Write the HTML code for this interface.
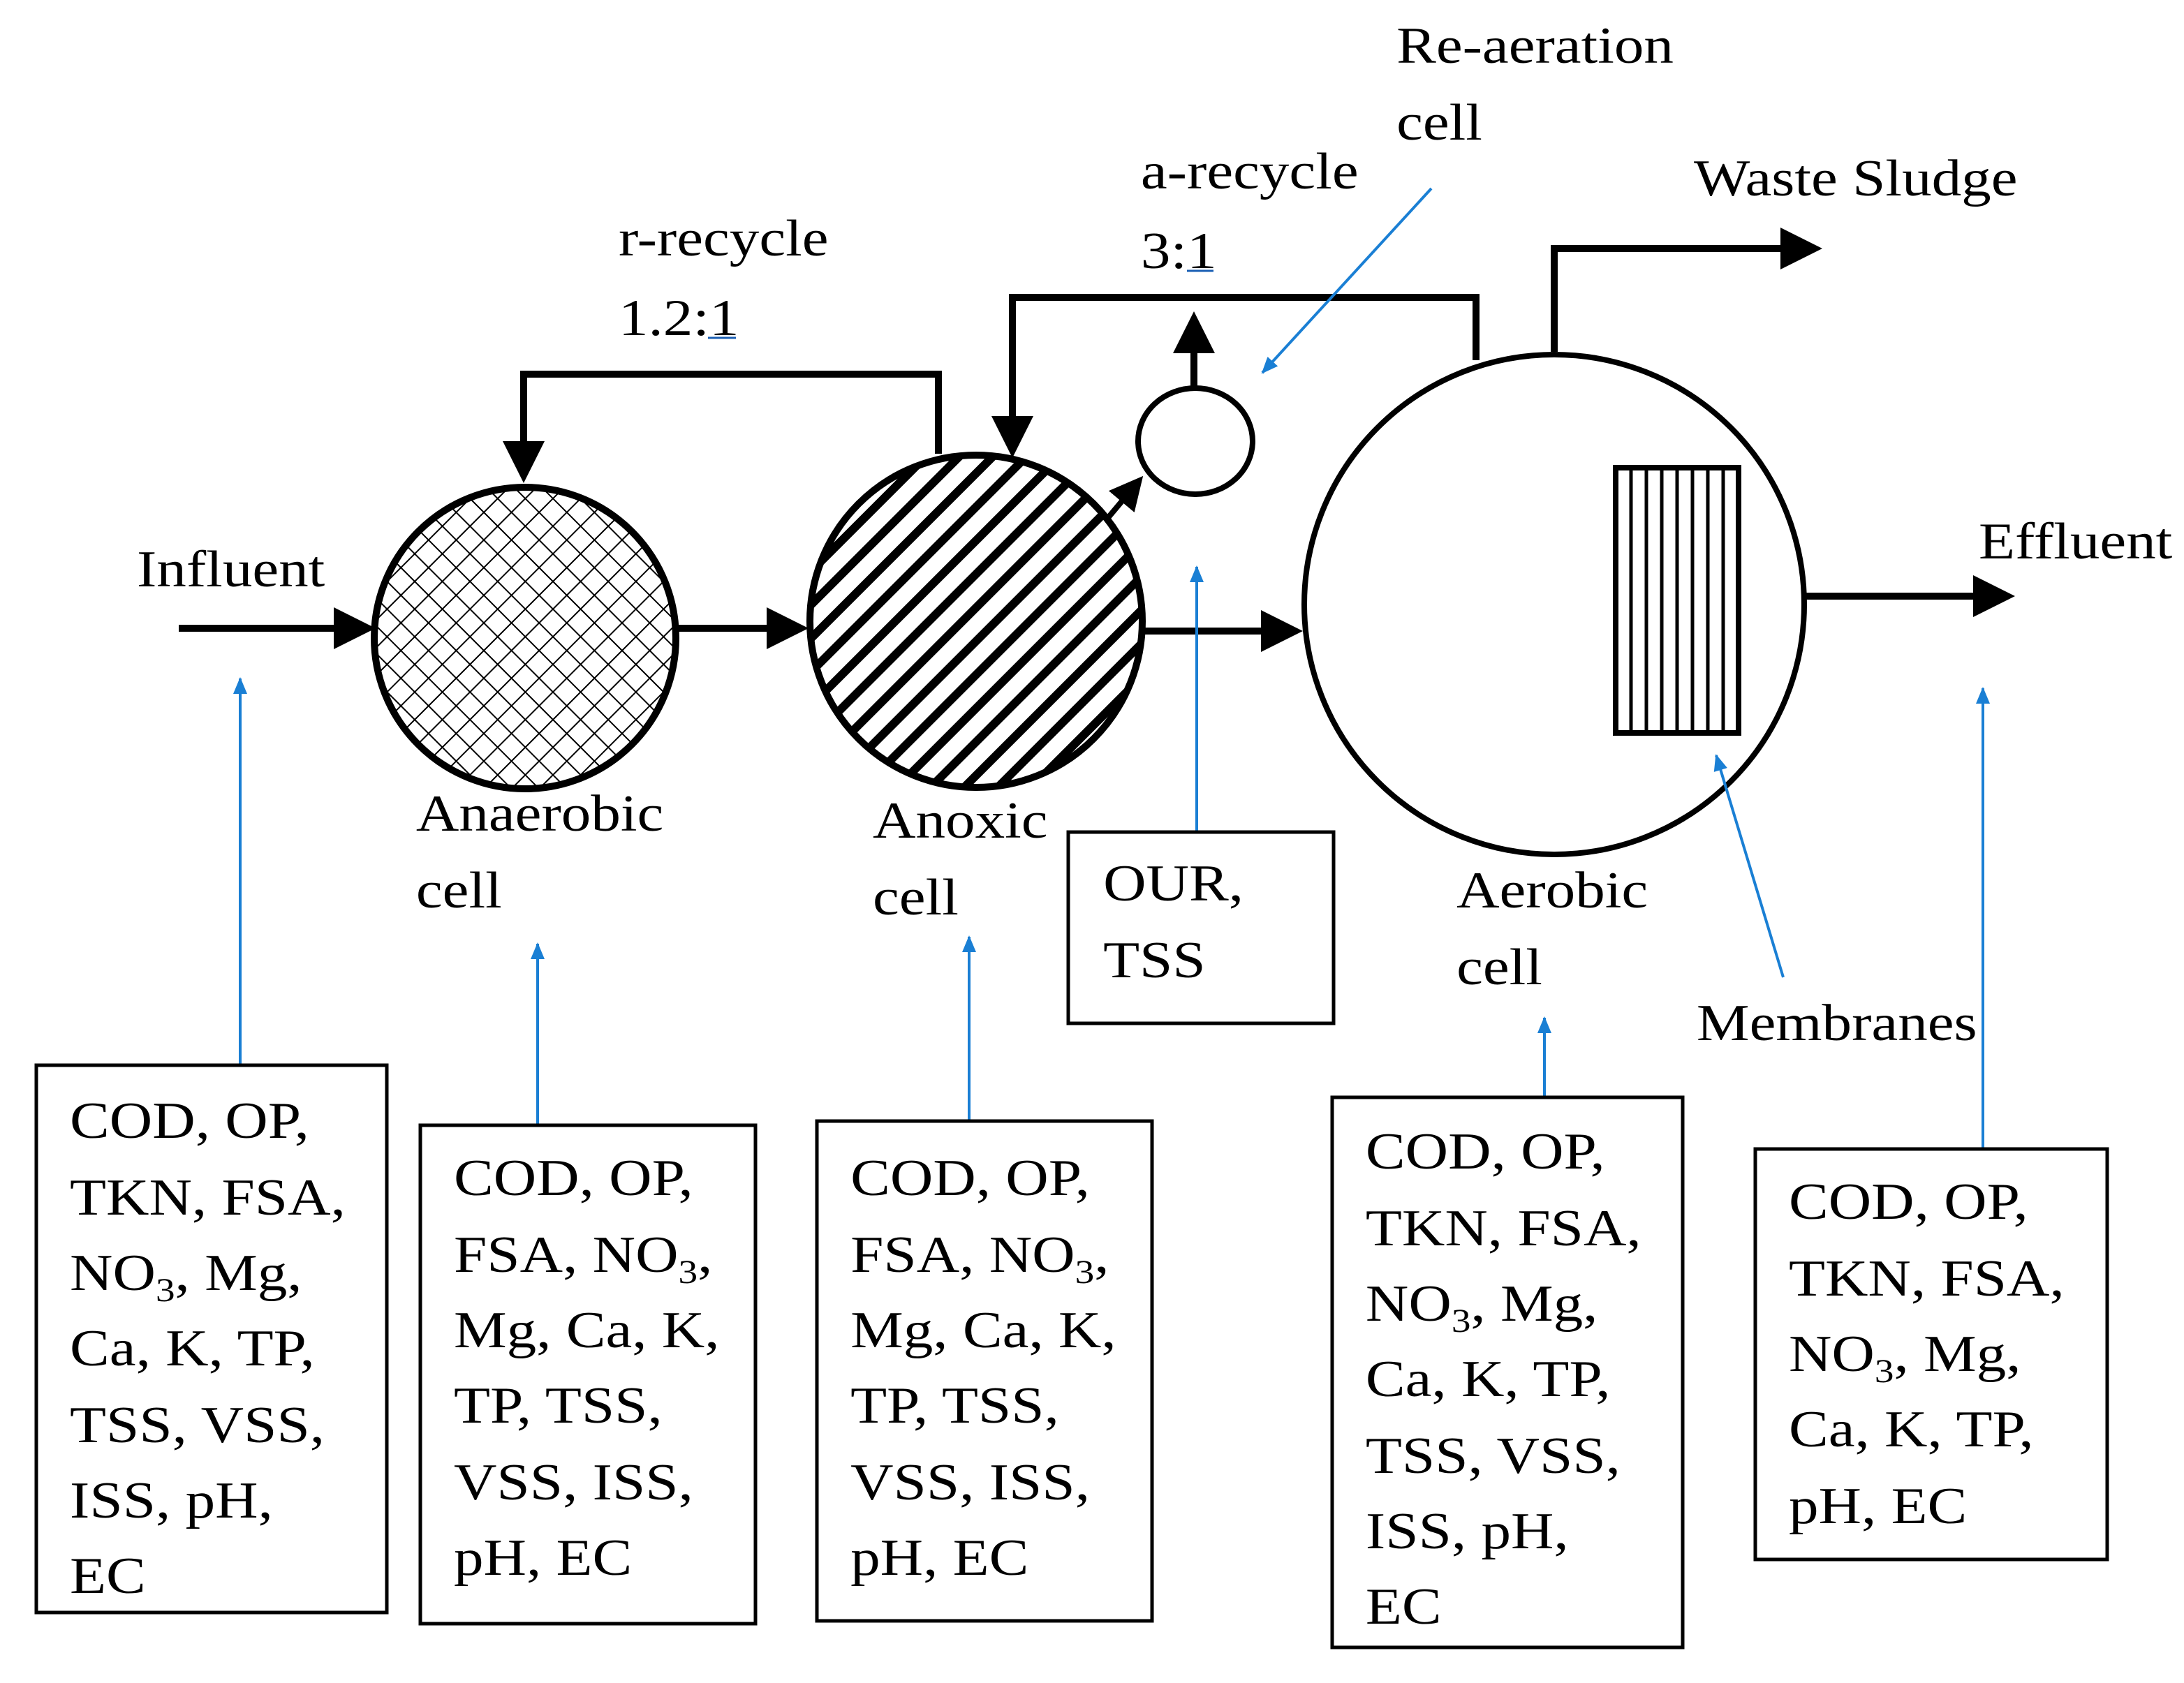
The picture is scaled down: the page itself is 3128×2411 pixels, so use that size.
<!DOCTYPE html>
<html><head><meta charset="utf-8"><style>
html,body{margin:0;padding:0;background:#fff;}
svg{display:block;}
text{font-family:"Liberation Serif",serif;font-size:37px;fill:#000;}
</style></head><body>
<svg width="3128" height="2411" viewBox="0 0 1564 1205.5" xmlns="http://www.w3.org/2000/svg">
<defs>
<pattern id="cross" width="14" height="14" patternUnits="userSpaceOnUse" patternTransform="rotate(45)">
<rect width="14" height="14" fill="#fff"/>
<line x1="0" y1="0" x2="0" y2="14" stroke="#000" stroke-width="2"/>
<line x1="0" y1="0" x2="14" y2="0" stroke="#000" stroke-width="2"/>
</pattern>
<pattern id="diag" width="17" height="17" patternUnits="userSpaceOnUse" patternTransform="rotate(-45)">
<rect width="17" height="17" fill="#fff"/>
<rect x="0" y="0" width="17" height="6" fill="#000"/>
</pattern>
<marker id="ak" markerWidth="6" markerHeight="6" refX="5" refY="3" orient="auto" markerUnits="strokeWidth">
<path d="M0,0 L6,3 L0,6 z" fill="#000"/>
</marker>
<marker id="ab" markerWidth="12" markerHeight="10" refX="11" refY="5" orient="auto" markerUnits="userSpaceOnUse">
<path d="M0,0 L12,5 L0,10 z" fill="#1a7fd4"/>
</marker>
</defs>

<g stroke="#000" stroke-width="5" fill="none">
<line x1="128" y1="450" x2="264" y2="450" marker-end="url(#ak)"/>
<line x1="484" y1="450" x2="574" y2="450" marker-end="url(#ak)"/>
<line x1="818" y1="452" x2="928" y2="452" marker-end="url(#ak)"/>
<line x1="1248" y1="427" x2="1438" y2="427" marker-end="url(#ak)"/>
<polyline points="672,325 672,268 375,268 375,341" marker-end="url(#ak)"/>
<polyline points="1057,258 1057,213 725,213 725,323" marker-end="url(#ak)"/>
<line x1="855" y1="278" x2="855" y2="228" marker-end="url(#ak)"/>
<line x1="790" y1="375" x2="816" y2="344" stroke-width="4" marker-end="url(#ak)"/>
<polyline points="1113,252 1113,178 1300,178" marker-end="url(#ak)"/>
</g>

<circle cx="376" cy="457" r="108" fill="url(#cross)" stroke="#000" stroke-width="5"/>
<circle cx="699" cy="445" r="119" fill="url(#diag)" stroke="#000" stroke-width="5"/>
<ellipse cx="856" cy="316" rx="41" ry="38" fill="#fff" stroke="#000" stroke-width="4"/>
<circle cx="1113" cy="433" r="179" fill="#fff" stroke="#000" stroke-width="4"/>
<rect x="1157" y="335" width="88" height="190" fill="#fff" stroke="#000" stroke-width="4"/>
<g stroke="#000" stroke-width="2.5">
<line x1="1168" y1="335" x2="1168" y2="525"/><line x1="1179" y1="335" x2="1179" y2="525"/>
<line x1="1190" y1="335" x2="1190" y2="525"/><line x1="1201" y1="335" x2="1201" y2="525"/>
<line x1="1212" y1="335" x2="1212" y2="525"/><line x1="1223" y1="335" x2="1223" y2="525"/>
<line x1="1234" y1="335" x2="1234" y2="525"/>
</g>

<g stroke="#1a7fd4" stroke-width="2" fill="none">
<line x1="172" y1="762" x2="172" y2="486" marker-end="url(#ab)"/>
<line x1="385" y1="805" x2="385" y2="676" marker-end="url(#ab)"/>
<line x1="694" y1="803" x2="694" y2="671" marker-end="url(#ab)"/>
<line x1="857" y1="597" x2="857" y2="406" marker-end="url(#ab)"/>
<line x1="1106" y1="785" x2="1106" y2="729" marker-end="url(#ab)"/>
<line x1="1420" y1="823" x2="1420" y2="493" marker-end="url(#ab)"/>
<line x1="1277" y1="700" x2="1229" y2="541" marker-end="url(#ab)"/>
<line x1="1025" y1="135" x2="904" y2="267" marker-end="url(#ab)"/>
</g>

<g fill="none" stroke="#000" stroke-width="2.5">
<rect x="26" y="763" width="251" height="392"/>
<rect x="301" y="806" width="240" height="357"/>
<rect x="585" y="803" width="240" height="358"/>
<rect x="765" y="596" width="190" height="137"/>
<rect x="954" y="786" width="251" height="394"/>
<rect x="1257" y="823" width="252" height="294"/>
</g>

<line x1="507" y1="242" x2="527" y2="242" stroke="#1a5fb4" stroke-width="1.5"/>
<line x1="850" y1="194" x2="869" y2="194" stroke="#1a5fb4" stroke-width="1.5"/>

<g transform="scale(1.15,1)">
<text x="85.2" y="420">Influent</text>
<text x="385.2" y="183">r-recycle</text>
<text x="385.2" y="240">1.2:1</text>
<text x="710.4" y="135">a-recycle</text>
<text x="710.4" y="192">3:1</text>
<text x="869.6" y="45">Re-aeration</text>
<text x="869.6" y="100">cell</text>
<text x="1054.8" y="140">Waste Sludge</text>
<text x="1232.2" y="400">Effluent</text>
<text x="259.1" y="595">Anaerobic</text>
<text x="259.1" y="650">cell</text>
<text x="543.5" y="600">Anoxic</text>
<text x="543.5" y="655">cell</text>
<text x="907" y="650">Aerobic</text>
<text x="907" y="705">cell</text>
<text x="1056.5" y="745">Membranes</text>
<text x="687" y="645">OUR,</text>
<text x="687" y="700">TSS</text>

<text x="43.5" y="815">COD, OP,</text>
<text x="43.5" y="870">TKN, FSA,</text>
<text x="43.5" y="924">NO<tspan font-size="24" dy="8">3</tspan><tspan dy="-8">, Mg,</tspan></text>
<text x="43.5" y="978">Ca, K, TP,</text>
<text x="43.5" y="1033">TSS, VSS,</text>
<text x="43.5" y="1087">ISS, pH,</text>
<text x="43.5" y="1141">EC</text>

<text x="282.6" y="856">COD, OP,</text>
<text x="282.6" y="911">FSA, NO<tspan font-size="24" dy="8">3</tspan><tspan dy="-8">,</tspan></text>
<text x="282.6" y="965">Mg, Ca, K,</text>
<text x="282.6" y="1019">TP, TSS,</text>
<text x="282.6" y="1074">VSS, ISS,</text>
<text x="282.6" y="1128">pH, EC</text>

<text x="529.6" y="856">COD, OP,</text>
<text x="529.6" y="911">FSA, NO<tspan font-size="24" dy="8">3</tspan><tspan dy="-8">,</tspan></text>
<text x="529.6" y="965">Mg, Ca, K,</text>
<text x="529.6" y="1019">TP, TSS,</text>
<text x="529.6" y="1074">VSS, ISS,</text>
<text x="529.6" y="1128">pH, EC</text>

<text x="850.4" y="837">COD, OP,</text>
<text x="850.4" y="892">TKN, FSA,</text>
<text x="850.4" y="946">NO<tspan font-size="24" dy="8">3</tspan><tspan dy="-8">, Mg,</tspan></text>
<text x="850.4" y="1000">Ca, K, TP,</text>
<text x="850.4" y="1055">TSS, VSS,</text>
<text x="850.4" y="1109">ISS, pH,</text>
<text x="850.4" y="1163">EC</text>

<text x="1113.9" y="873">COD, OP,</text>
<text x="1113.9" y="928">TKN, FSA,</text>
<text x="1113.9" y="982">NO<tspan font-size="24" dy="8">3</tspan><tspan dy="-8">, Mg,</tspan></text>
<text x="1113.9" y="1036">Ca, K, TP,</text>
<text x="1113.9" y="1091">pH, EC</text>
</g>
</svg>
</body></html>
